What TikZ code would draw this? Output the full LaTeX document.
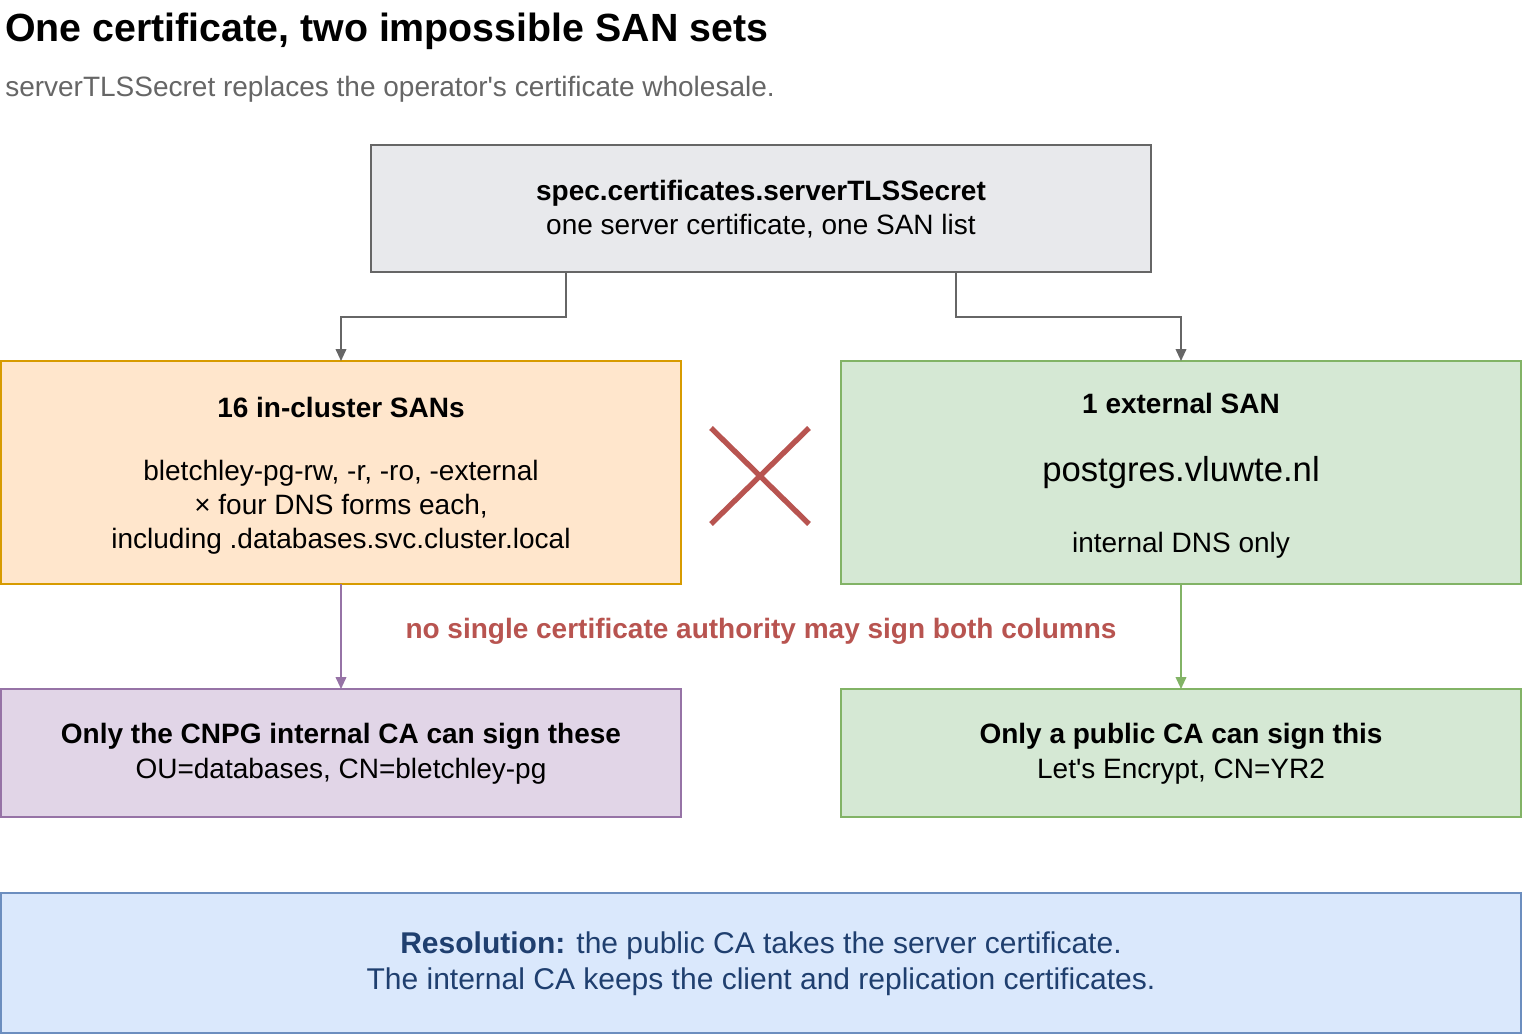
\documentclass[tikz,border=0pt]{standalone}
\usepackage{fontspec}
\setmainfont{Liberation Sans}
\usetikzlibrary{arrows.meta}
\definecolor{gfill}{HTML}{E8E9EC}\definecolor{gline}{HTML}{666666}
\definecolor{ofill}{HTML}{FFE6CC}\definecolor{oline}{HTML}{D79B00}
\definecolor{vfill}{HTML}{D5E8D4}\definecolor{vline}{HTML}{82B366}
\definecolor{pfill}{HTML}{E1D5E7}\definecolor{pline}{HTML}{9673A6}
\definecolor{bfill}{HTML}{DAE8FC}\definecolor{bline}{HTML}{6C8EBF}
\definecolor{rline}{HTML}{B85450}\definecolor{btext}{HTML}{1F3F6F}
\newcommand{\apos}{\XeTeXglyph\XeTeXcharglyph"0027\relax}
\begin{document}
\begin{tikzpicture}[x=0.75pt,y=-0.75pt,
  box/.style={draw,line width=1.3pt,inner sep=0pt},
  arr/.style={line width=1.3pt,-{Triangle[length=9pt,width=8pt]}},
  lbl/.style={align=center,font=\fontsize{21}{26}\selectfont}]
\useasboundingbox[fill=white] (0,0) rectangle (1524,1034);
\node[anchor=west,inner sep=0pt,font=\fontsize{29.5}{34}\selectfont\bfseries] (title) at (5,31) {One certificate, two impossible SAN sets};
\node[anchor=west,inner sep=0pt,text=gline,font=\fontsize{21}{25}\selectfont] (sub) at (5,89) {serverTLSSecret replaces the operator\apos s certificate wholesale.};
\draw[box,draw=gline,fill=gfill] (371,145) rectangle (1151,272);
\node[lbl] (toptext) at (761,209) {\textbf{spec.certificates.serverTLSSecret}\\one server certificate, one SAN list};
\draw[box,draw=oline,fill=ofill] (1,361) rectangle (681,584);
\node[lbl] (l1) at (341,407) {\textbf{16 in-cluster SANs}};
\node[lbl,font=\fontsize{21}{25.5}\selectfont] (l2) at (341,507) {bletchley-pg-rw, -r, -ro, -external\\× four DNS forms each,\\including .databases.svc.cluster.local};
\draw[box,draw=vline,fill=vfill] (841,361) rectangle (1521,584);
\node[lbl] (r1) at (1181,403) {\textbf{1 external SAN}};
\node[lbl,font=\fontsize{26}{30}\selectfont] (r2) at (1181,473) {postgres.vluwte.nl};
\node[lbl] (r3) at (1181,545) {internal DNS only};
\draw[box,draw=pline,fill=pfill] (1,689) rectangle (681,817);
\node[lbl] (p) at (341,754) {\textbf{Only the CNPG internal CA can sign these}\\OU=databases, CN=bletchley-pg};
\draw[box,draw=vline,fill=vfill] (841,689) rectangle (1521,817);
\node[lbl] (g) at (1181,754) {\textbf{Only a public CA can sign this}\\Let\apos s Encrypt, CN=YR2};
\draw[box,draw=bline,fill=bfill] (1,893) rectangle (1521,1033);
\node[lbl,text=btext,font=\fontsize{22.5}{27}\selectfont] (b) at (761,964) {\textbf{Resolution:} the public CA takes the server certificate.\\The internal CA keeps the client and replication certificates.};
\node[text=rline,font=\fontsize{21}{25}\selectfont\bfseries] (warn) at (761,631) {no single certificate authority may sign both columns};
\coordinate (x1) at (711,428); \coordinate (x2) at (809,524);
\coordinate (x3) at (809,428); \coordinate (x4) at (711,524);
\draw[rline,line width=4pt] (x1)--(x2) (x3)--(x4);
\coordinate (a0) at (566,272); \coordinate (a1) at (341,361);
\coordinate (b0) at (956,272); \coordinate (b1) at (1181,361);
\draw[arr,gline] (a0)--(566,317)--(341,317)--(a1);
\draw[arr,gline] (b0)--(956,317)--(1181,317)--(b1);
\coordinate (c0) at (341,584); \coordinate (c1) at (341,689);
\coordinate (d0) at (1181,584); \coordinate (d1) at (1181,689);
\draw[arr,pline] (c0)--(c1);
\draw[arr,vline] (d0)--(d1);
\end{tikzpicture}
\end{document}
